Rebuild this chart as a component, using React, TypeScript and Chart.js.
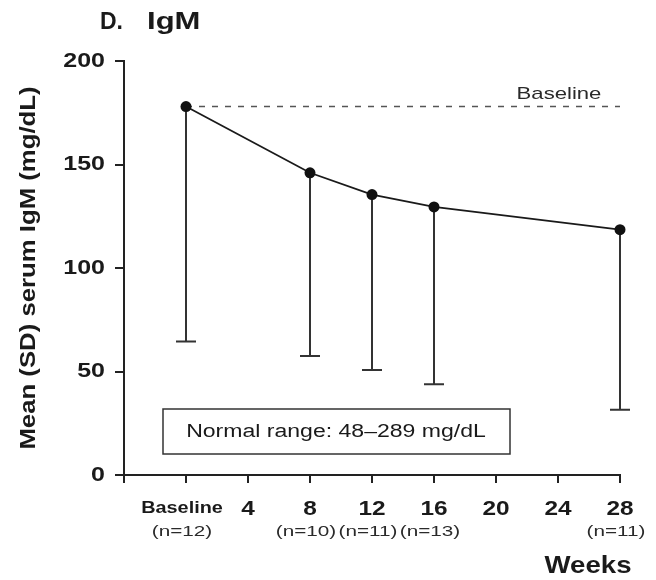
import React, { useEffect, useRef } from "react";
import { Chart, registerables } from "chart.js";

Chart.register(...registerables);

// ---- data ----
const weeks = [0, 8, 12, 16, 28];
const meanIgM = [178, 146, 135.5, 129.5, 118.5];
const sdLower = [64.5, 57.5, 50.7, 43.8, 31.5];
const nLabels = ["(n=12)", "(n=10)", "(n=11)", "(n=13)", "(n=11)"];
const xTickValues = [0, 4, 8, 12, 16, 20, 24, 28];
const xTickLabels = ["Baseline", "4", "8", "12", "16", "20", "24", "28"];
const yTickValues = [0, 50, 100, 150, 200];
const baselineValue = 178;
const titleParts = ["D.", "IgM"];
const yTitle = "Mean (SD) serum IgM (mg/dL)";
const xTitle = "Weeks";
const normalRangeText = "Normal range: 48\u2013289 mg/dL";
const baselineLabel = "Baseline";

const FONT = "'Liberation Sans', Arial, Helvetica, sans-serif";

function drawText(
  ctx: CanvasRenderingContext2D,
  text: string,
  x: number,
  y: number,
  font: string,
  align: CanvasTextAlign,
  sx: number,
  color: string,
  rot = 0
) {
  ctx.save();
  ctx.translate(x, y);
  if (rot) ctx.rotate(rot);
  ctx.scale(sx, 1);
  ctx.font = font;
  ctx.textAlign = align;
  ctx.textBaseline = "middle";
  ctx.fillStyle = color;
  ctx.fillText(text, 0, 0);
  ctx.restore();
}

const annotPlugin = {
  id: "annot",
  beforeDatasetsDraw(chart: any) {
    const ctx: CanvasRenderingContext2D = chart.ctx;
    const xs = chart.scales.x;
    const ys = chart.scales.y;
    // dashed baseline
    ctx.save();
    ctx.strokeStyle = "#555";
    ctx.lineWidth = 1.5;
    ctx.setLineDash([6, 7]);
    ctx.beginPath();
    ctx.moveTo(xs.getPixelForValue(weeks[0]), ys.getPixelForValue(baselineValue));
    ctx.lineTo(xs.getPixelForValue(28), ys.getPixelForValue(baselineValue));
    ctx.stroke();
    ctx.restore();
    // error bars (lower SD only)
    ctx.save();
    ctx.strokeStyle = "#333";
    ctx.lineWidth = 2;
    weeks.forEach((w, i) => {
      const px = xs.getPixelForValue(w);
      const yTop = ys.getPixelForValue(meanIgM[i]);
      const yBot = ys.getPixelForValue(sdLower[i]);
      ctx.beginPath();
      ctx.moveTo(px, yTop);
      ctx.lineTo(px, yBot);
      ctx.moveTo(px - 10, yBot);
      ctx.lineTo(px + 10, yBot);
      ctx.stroke();
    });
    ctx.restore();
  },
  afterDraw(chart: any) {
    const ctx: CanvasRenderingContext2D = chart.ctx;
    const xs = chart.scales.x;
    const ys = chart.scales.y;
    const area = chart.chartArea;
    const dark = "#1a1a1a";

    // title
    drawText(ctx, titleParts[0], 100, 23, `bold 23px ${FONT}`, "left", 1.0, dark);
    drawText(ctx, titleParts[1], 147, 23, `bold 23px ${FONT}`, "left", 1.35, dark);

    // y title
    drawText(ctx, yTitle, 29, (area.top + area.bottom) / 2, `bold 22px ${FONT}`, "center", 1.17, dark, -Math.PI / 2);

    // y tick labels
    yTickValues.forEach((v) => {
      drawText(ctx, String(v), 105, ys.getPixelForValue(v), `bold 20px ${FONT}`, "right", 1.25, dark);
    });

    // x tick labels
    xTickValues.forEach((v, i) => {
      const px = xs.getPixelForValue(v);
      if (xTickLabels[i] === "Baseline") {
        drawText(ctx, xTickLabels[i], px - 4, 509, `bold 16px ${FONT}`, "center", 1.24, dark);
      } else {
        drawText(ctx, xTickLabels[i], px, 509, `bold 20px ${FONT}`, "center", 1.22, dark);
      }
    });
    // n labels
    weeks.forEach((w, i) => {
      const px = xs.getPixelForValue(w);
      drawText(ctx, nLabels[i], px - 4, 532, `15px ${FONT}`, "center", 1.38, "#2a2a2a");
    });

    // x title
    drawText(ctx, xTitle, 588, 566, `bold 24px ${FONT}`, "center", 1.15, dark);

    // baseline label
    drawText(ctx, baselineLabel, 559, 94, `17px ${FONT}`, "center", 1.3, "#2a2a2a");

    // normal range box
    ctx.save();
    ctx.strokeStyle = "#333";
    ctx.lineWidth = 1.5;
    ctx.strokeRect(163, 409, 347, 45);
    ctx.restore();
    drawText(ctx, normalRangeText, 336, 432, `18px ${FONT}`, "center", 1.28, dark);
  },
};

export default function App() {
  const ref = useRef<HTMLCanvasElement | null>(null);

  useEffect(() => {
    if (!ref.current) return;
    const chart = new Chart(ref.current, {
      type: "line",
      data: {
        datasets: [
          {
            data: weeks.map((w, i) => ({ x: w, y: meanIgM[i] })),
            borderColor: "#1a1a1a",
            borderWidth: 1.8,
            pointRadius: 5.5,
            pointBackgroundColor: "#111",
            pointBorderColor: "#111",
            pointBorderWidth: 0,
            tension: 0,
            clip: false as any,
          },
        ],
      },
      options: {
        responsive: false,
        animation: false,
        layout: { padding: { top: 61, right: 36, left: 0, bottom: 0 } },
        plugins: {
          legend: { display: false },
          tooltip: { enabled: false },
          title: { display: false },
        },
        scales: {
          x: {
            type: "linear",
            min: -4,
            max: 28,
            afterBuildTicks: (scale: any) => {
              scale.ticks = [-4, ...xTickValues].map((v) => ({ value: v }));
            },
            afterFit: (scale: any) => {
              scale.height = 105;
            },
            ticks: { callback: () => "", color: "rgba(0,0,0,0)" },
            grid: {
              display: true,
              drawOnChartArea: false,
              drawTicks: true,
              tickLength: 8,
              color: "#222",
              lineWidth: 2,
            },
            border: { display: true, color: "#222", width: 2 },
          },
          y: {
            type: "linear",
            min: 0,
            max: 200,
            afterBuildTicks: (scale: any) => {
              scale.ticks = yTickValues.map((v) => ({ value: v }));
            },
            afterFit: (scale: any) => {
              scale.width = 124;
            },
            ticks: { callback: () => "", color: "rgba(0,0,0,0)" },
            grid: {
              display: true,
              drawOnChartArea: false,
              drawTicks: true,
              tickLength: 9,
              color: "#222",
              lineWidth: 2,
            },
            border: { display: true, color: "#222", width: 2 },
          },
        },
      },
      plugins: [annotPlugin],
    });
    return () => chart.destroy();
  }, []);

  return (
    <div style={{ position: "absolute", left: 0, top: 0, width: 656, height: 580, background: "#fff" }}>
      <canvas ref={ref} width={656} height={580} />
    </div>
  );
}
